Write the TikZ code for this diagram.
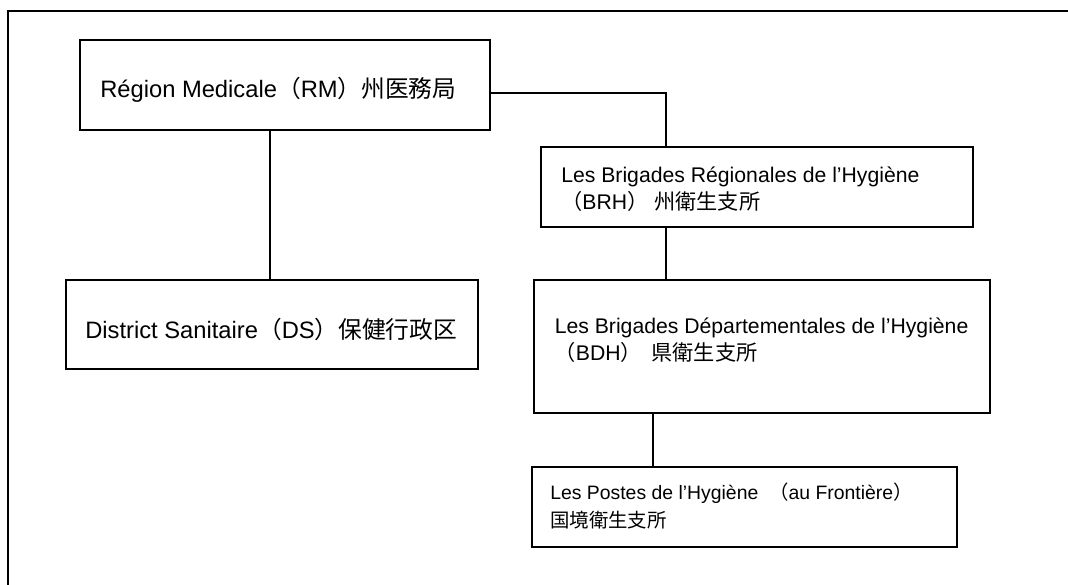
\documentclass[tikz,border=0pt]{standalone}
\usepackage{fontspec}
\setmainfont{Liberation Sans}
\newfontfamily\cjk{Noto Sans CJK JP}
\usetikzlibrary{fit}

\begin{document}
\begin{tikzpicture}[x=0.75pt,y=-0.75pt,
  box/.style={draw, line width=1.4pt, inner sep=0pt},
  link/.style={line width=1.5pt},
  bigtext/.style={inner sep=0pt, anchor=base west, font=\fontsize{17.8pt}{21pt}\selectfont},
  midtext/.style={inner sep=0pt, anchor=base west, font=\fontsize{15.9pt}{20pt}\selectfont},
  smalltext/.style={inner sep=0pt, anchor=base west, font=\fontsize{14.55pt}{18pt}\selectfont}]
\useasboundingbox (0,0) rectangle (1068,585);
\fill[white] (0,0) rectangle (1068,585);

% outer frame (open towards the right and the bottom)
\draw[link] (1072,11) -- (8,11) -- (8,589);

% boxes
\node[box, fit={(80,40) (490,130)}] (rm) {};
\node[box, fit={(66,280) (478,369)}] (ds) {};
\node[box, fit={(541,147) (973,227)}] (brh) {};
\node[box, fit={(534,280) (990,413)}] (bdh) {};
\node[box, fit={(532,467) (957,547)}] (postes) {};

% labels
\node[bigtext] (rmt) at (100,98) {Région Medicale{\cjk （}RM{\cjk ）州医務局}};
\node[bigtext] (dst) at (85,338) {District Sanitaire{\cjk （}DS{\cjk ）保健行政区}};
\node[midtext] (brh1) at (561,182) {Les Brigades Régionales de l’Hygiène};
\node[midtext] (brh2) at (561,209) {{\cjk （}BRH{\cjk ）}\ {\cjk 州衛生支所}};
\node[midtext] (bdh1) at (554.5,333) {Les Brigades Départementales de l’Hygiène};
\node[midtext] (bdh2) at (554.5,360) {{\cjk （}BDH{\cjk ）}\hspace{0.45em}{\cjk 県衛生支所}};
\node[smalltext] (pt1) at (550,499) {Les Postes de l’Hygiène\ \ {\cjk （}au Frontière{\cjk ）}};
\node[smalltext] (pt2) at (550,527) {{\cjk 国境衛生支所}};

% connectors
\coordinate (xa) at (270,0);
\coordinate (ja) at (666,93);
\coordinate (xb) at (653,0);
\draw[link] (rm.south -| xa) -- (ds.north -| xa);
\draw[link] (rm.east |- ja) -| (brh.north -| ja);
\draw[link] (brh.south -| ja) -- (bdh.north -| ja);
\draw[link] (bdh.south -| xb) -- (postes.north -| xb);
\end{tikzpicture}
\end{document}
